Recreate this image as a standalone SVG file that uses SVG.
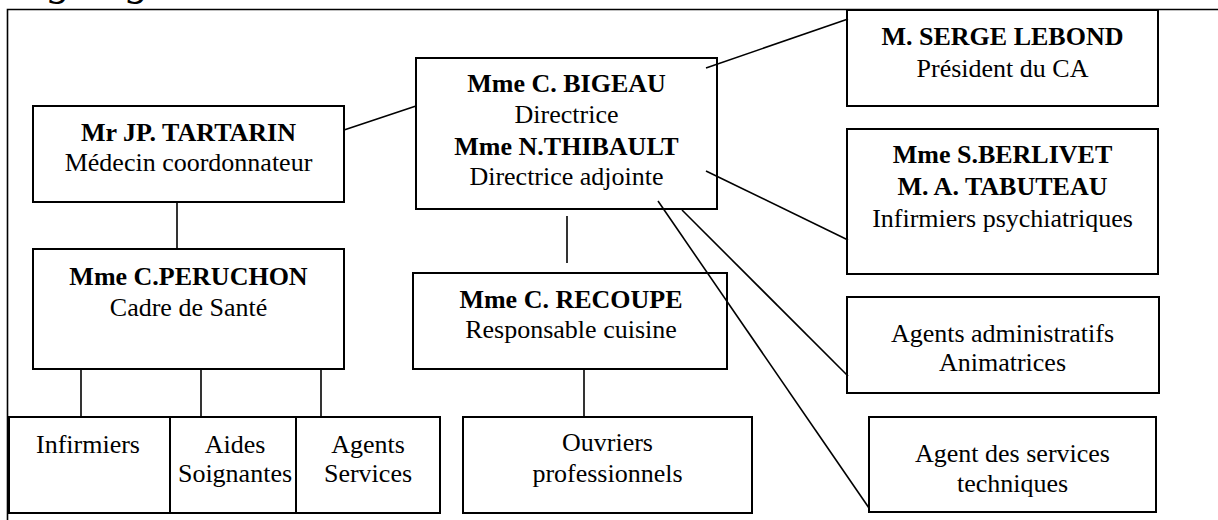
<svg xmlns="http://www.w3.org/2000/svg" width="1218" height="520" viewBox="0 0 1218 520">
<style>
.box{fill:#fff;stroke:#000;stroke-width:2}
.ln{stroke:#000;stroke-width:1.6;fill:none}
text{font-family:"Liberation Serif","Times New Roman",serif;font-size:26px;fill:#000;text-anchor:middle}
.b{font-weight:bold}
.title{font-style:italic;font-size:44px;text-anchor:start}
</style>
<rect width="1218" height="520" fill="#fff"/>
<text class="title" x="2" y="-5">Organigramme</text>
<g id="frame"><path class="ln" d="M7.5,520 V9.5 H1218"/></g>
<g id="tartarin"><rect class="box" x="33" y="106" width="311" height="96"/>
<text class="b" x="188.5" y="141">Mr JP. TARTARIN</text><text x="188.5" y="171">Médecin coordonnateur</text></g>
<g id="bigeau"><rect class="box" x="416" y="58" width="301" height="151"/>
<text class="b" x="566.5" y="92">Mme C. BIGEAU</text><text x="566.5" y="123">Directrice</text>
<text class="b" x="566.5" y="155">Mme N.THIBAULT</text><text x="566.5" y="185">Directrice adjointe</text></g>
<g id="lebond"><rect class="box" x="847" y="10" width="311" height="96"/>
<text class="b" x="1002.5" y="45">M. SERGE LEBOND</text><text x="1002.5" y="77">Président du CA</text></g>
<g id="berlivet"><rect class="box" x="847" y="129" width="311" height="145"/>
<text class="b" x="1002.5" y="163">Mme S.BERLIVET</text><text class="b" x="1002.5" y="195">M. A. TABUTEAU</text><text x="1002.5" y="227">Infirmiers psychiatriques</text></g>
<g id="peruchon"><rect class="box" x="33" y="249" width="311" height="120"/>
<text class="b" x="188.5" y="285">Mme C.PERUCHON</text><text x="188.5" y="316">Cadre de Santé</text></g>
<g id="infirmiers"><rect class="box" x="9" y="417" width="161" height="96"/>
<text x="88" y="453">Infirmiers</text></g>
<g id="aides"><rect class="box" x="170" y="417" width="126" height="96"/>
<text x="235" y="453">Aides</text><text x="235" y="482">Soignantes</text></g>
<g id="agents-services"><rect class="box" x="296" y="417" width="144" height="96"/>
<text x="368" y="453">Agents</text><text x="368" y="482">Services</text></g>
<g id="recoupe"><rect class="box" x="413" y="273" width="314" height="96"/>
<text class="b" x="571" y="308">Mme C. RECOUPE</text><text x="571" y="338">Responsable cuisine</text></g>
<g id="ouvriers"><rect class="box" x="463" y="417" width="289" height="96"/>
<text x="607.5" y="451">Ouvriers</text><text x="607.5" y="482">professionnels</text></g>
<g id="admin"><rect class="box" x="847" y="297" width="312" height="96"/>
<text x="1002.5" y="342">Agents administratifs</text><text x="1002.5" y="371">Animatrices</text></g>
<g id="techniques"><rect class="box" x="869" y="417" width="287" height="95"/>
<text x="1012.5" y="462">Agent des services</text><text x="1012.5" y="492">techniques</text></g>
<g id="connectors">
<line class="ln" x1="344" y1="130" x2="416" y2="106"/>
<line class="ln" x1="706" y1="68" x2="848" y2="19"/>
<line class="ln" x1="706" y1="171" x2="848" y2="240"/>
<line class="ln" x1="682" y1="210" x2="848" y2="376"/>
<line class="ln" x1="658" y1="201" x2="869" y2="508"/>
<line class="ln" x1="177" y1="202" x2="177" y2="249"/>
<line class="ln" x1="81" y1="369" x2="81" y2="417"/>
<line class="ln" x1="201" y1="369" x2="201" y2="417"/>
<line class="ln" x1="321" y1="369" x2="321" y2="417"/>
<line class="ln" x1="567" y1="216" x2="567" y2="263"/>
<line class="ln" x1="584" y1="369" x2="584" y2="417"/>
</g>
</svg>
